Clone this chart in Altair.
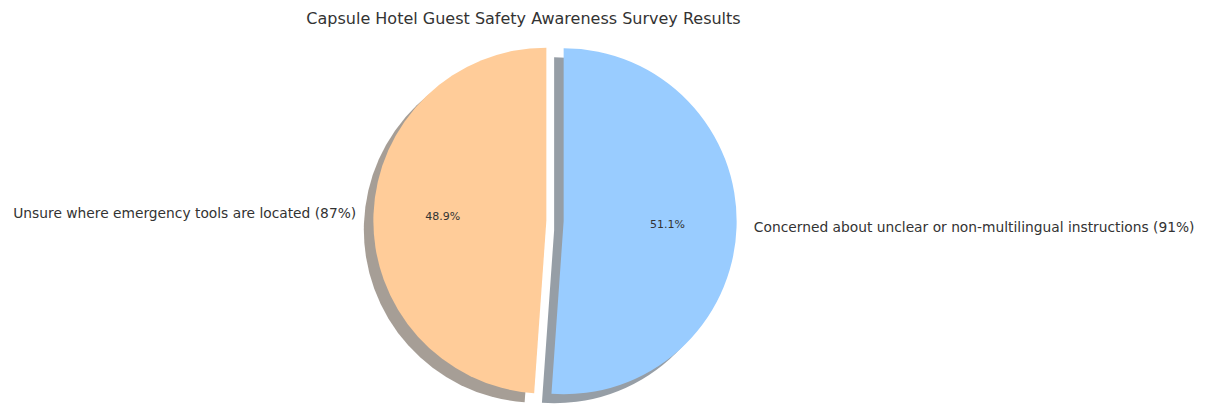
import altair as alt
import pandas as pd

# ---- data ----
categories = [
    "Unsure where emergency tools are located (87%)",
    "Concerned about unclear or non-multilingual instructions (91%)",
]
values = [87, 91]
colors = ["#ffcc99", "#99ccff"]
shadow_colors = ["#4d3d2e", "#2e3d4d"]
explode = [0.05, 0.05]

df = pd.DataFrame({
    "category": categories,
    "value": values,
    "color": colors,
    "shadow": shadow_colors,
    "explode": explode,
    "order": list(range(len(values))),
})

# ---- layout (pixels) ----
W, H = 1193, 372
CX, CY = 547, 191       # pie centre inside the plot area
R = 173                 # pie radius
SHADOW_DX, SHADOW_DY = -0.055, -0.052  # in radius units

xdom = [-CX / R, (W - CX) / R]
ydom = [-(H - CY) / R, CY / R]
xs = alt.Scale(domain=xdom, nice=False, zero=False)
ys = alt.Scale(domain=ydom, nice=False, zero=False)

base = alt.Chart(df).transform_joinaggregate(
    total="sum(value)"
).transform_window(
    cum="sum(value)", sort=[alt.SortField("order")], frame=[None, 0]
).transform_calculate(
    start="(datum.cum - datum.value) / datum.total",
    end="datum.cum / datum.total",
).transform_calculate(
    mid="PI/2 + PI*(datum.start + datum.end)",
    t1="-2*PI*datum.end",
    t2="-2*PI*datum.start",
    pct="format(100*datum.value/datum.total, '.1f') + '%'",
).transform_calculate(
    cx="datum.explode*cos(datum.mid)",
    cy="datum.explode*sin(datum.mid)",
).transform_calculate(
    sx=f"datum.cx + ({SHADOW_DX})",
    sy=f"datum.cy + ({SHADOW_DY})",
    lx="datum.cx + 1.1*cos(datum.mid)",
    ly="datum.cy + 1.1*sin(datum.mid)",
    px="datum.cx + 0.6*cos(datum.mid)",
    py="datum.cy + 0.6*sin(datum.mid)",
)

shadow = base.mark_arc(radius=R, opacity=0.5, stroke=None).encode(
    x=alt.X("sx:Q", scale=xs, axis=None),
    y=alt.Y("sy:Q", scale=ys, axis=None),
    theta=alt.Theta("t1:Q", scale=None),
    theta2="t2:Q",
    fill=alt.Fill("shadow:N", scale=None),
)

wedges = base.mark_arc(radius=R, stroke=None).encode(
    x=alt.X("cx:Q", scale=xs, axis=None),
    y=alt.Y("cy:Q", scale=ys, axis=None),
    theta=alt.Theta("t1:Q", scale=None),
    theta2="t2:Q",
    fill=alt.Fill("color:N", scale=None),
)

label_left = base.transform_filter("datum.lx < 0").mark_text(
    align="right", baseline="middle", font="DejaVu Sans", fontSize=13.8, color="#333333"
).encode(
    x=alt.X("lx:Q", scale=xs, axis=None),
    y=alt.Y("ly:Q", scale=ys, axis=None),
    text="category:N",
)

label_right = base.transform_filter("datum.lx >= 0").mark_text(
    align="left", baseline="middle", font="DejaVu Sans", fontSize=13.8, color="#333333"
).encode(
    x=alt.X("lx:Q", scale=xs, axis=None),
    y=alt.Y("ly:Q", scale=ys, axis=None),
    text="category:N",
)

pct = base.mark_text(
    align="center", baseline="middle", font="DejaVu Sans", fontSize=11, color="#333333"
).encode(
    x=alt.X("px:Q", scale=xs, axis=None),
    y=alt.Y("py:Q", scale=ys, axis=None),
    text="pct:N",
)

chart = alt.layer(shadow, wedges, label_left, label_right, pct).properties(
    width=W,
    height=H,
    padding={"left": 0, "top": 3, "right": 0, "bottom": 0},
    title=alt.Title(
        "Capsule Hotel Guest Safety Awareness Survey Results",
        font="DejaVu Sans",
        fontSize=16,
        fontWeight="normal",
        color="#333333",
        dx=-81,
        offset=3,
    ),
).configure_view(stroke=None)

chart.save("out.html", embed_options={"renderer": "svg", "actions": False})
